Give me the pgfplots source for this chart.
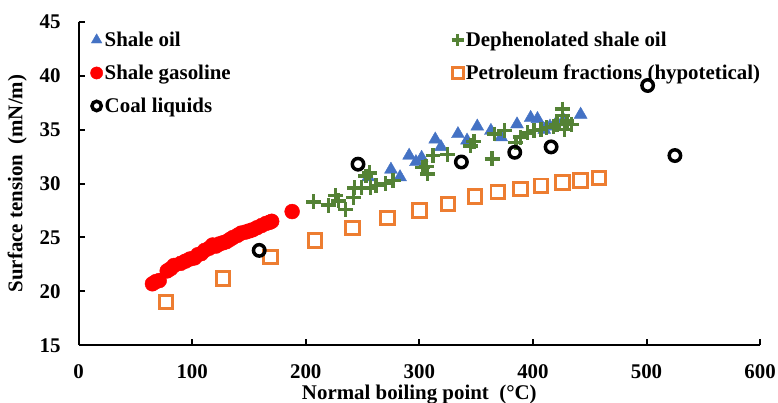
\documentclass[border=0pt]{standalone}
\usepackage{pgfplots}
\pgfplotsset{compat=1.18}
\usepackage{fontspec}
\setmainfont{Liberation Serif}
\definecolor{cblue}{HTML}{4472C4}
\definecolor{cgreen}{HTML}{548235}
\definecolor{cred}{HTML}{FF0000}
\definecolor{corange}{HTML}{ED7D31}
\newcommand{\ff}{\fontsize{21}{25}\selectfont\bfseries}
\pgfplotsset{mylegend/.style={legend image code/.code={\draw[##1, /tikz/every mark/.append style={scale=0.82}] plot coordinates {(0pt,0pt)};}}}
\begin{document}
\begin{tikzpicture}
\path[use as bounding box] (-79pt,-58pt) rectangle (703pt,347pt);
\begin{axis}[
  scale only axis, width=685pt, height=325pt,
  xmin=0, xmax=600, ymin=15, ymax=45,
  xtick={0,100,...,600}, ytick={15,20,...,45},
  axis x line*=bottom, axis y line*=left,
  axis line style={-, line width=2pt, black},
  tick align=inside, major tick length=6pt,
  tick style={line width=2pt, black},
  /pgf/number format/assume math mode=true,
  ticklabel style={font=\ff},
  xticklabel style={inner sep=0pt, yshift=-19pt},
  yticklabel style={inner sep=0pt, xshift=-18pt},
  xlabel={Normal boiling point\ \ (°C)},
  ylabel={Surface tension\ \ (mN/m)},
  label style={font=\ff},
  xlabel style={at={(axis description cs:0.5,-0.121)}, anchor=north, inner sep=0pt},
  ylabel style={at={(axis description cs:-0.090,0.5)}, anchor=center, rotate=0, inner sep=0pt},
  legend columns=2,
  legend cell align=left,
  legend style={draw=none, fill=none, inner sep=0pt, outer sep=0pt,
    at={(axis description cs:0.0175,0.975)}, anchor=north west,
    font=\ff, nodes={inner sep=2pt}, row sep=13pt, column sep=0pt,
    /tikz/column 2/.style={column sep=220pt}},
]
\addplot[only marks, mylegend, mark=triangle*, mark size=7.5pt, color=cblue] table {
x y
255 30.6
275 31.3
283 30.6
291 32.6
297 32.0
302 32.4
314 34.1
319 33.4
334 34.6
342 34.0
351 35.3
363 34.9
372 34.3
386 35.5
398 36.1
404 36.0
410 35.0
415 35.3
421 35.7
427 35.9
442 36.4
};
\addlegendentry{Shale oil}
\addplot[only marks, mylegend, mark=+, mark size=7.5pt, line width=3.5pt, color=cgreen] table {
x y
207 28.3
220 28.0
226 28.9
229 28.4
235 27.6
242 28.7
243 29.6
249 29.6
253 30.7
256 31.0
257 29.6
262 29.8
270 30.0
277 30.3
303 31.5
307 30.9
306 31.6
312 32.6
325 32.7
345 33.5
348 33.9
364 32.3
366 34.6
375 34.9
385 33.8
389 34.3
395 34.7
401 34.9
407 35.0
412 35.2
418 35.3
421 35.5
426 36.3
426 36.9
430 35.8
434 35.5
428 35.0
};
\addlegendentry{Dephenolated shale oil}
\addplot[only marks, mylegend, mark=*, mark size=7.5pt, color=cred] table {
x y
65 20.7
68 20.9
71 21.0
78 21.9
81 22.1
84 22.4
90 22.6
94 22.8
98 23.0
102 23.1
105 23.4
108 23.5
111 23.8
115 24.0
118 24.3
121 24.2
124 24.4
127 24.5
130 24.6
133 24.8
136 25.0
140 25.2
143 25.4
147 25.5
150 25.6
153 25.7
157 25.9
161 26.1
165 26.3
168 26.4
170 26.5
188 27.4
};
\addlegendentry{Shale gasoline}
\addplot[only marks, mylegend, mark=square, mark size=6.75pt, line width=3pt, color=corange] table {
x y
77 19.0
127 21.2
169 23.2
208 24.7
241 25.9
272 26.8
300 27.5
325 28.1
349 28.8
369 29.2
389 29.5
407 29.8
426 30.1
442 30.3
458 30.5
};
\addlegendentry{Petroleum fractions (hypotetical)}
\addplot[only marks, mylegend, mark=o, mark size=5.75pt, line width=3.5pt, color=black] table {
x y
159 23.8
246 31.8
337 32.0
384 32.9
416 33.4
501 39.1
525 32.6
};
\addlegendentry{Coal liquids}
\end{axis}
\end{tikzpicture}
\end{document}
